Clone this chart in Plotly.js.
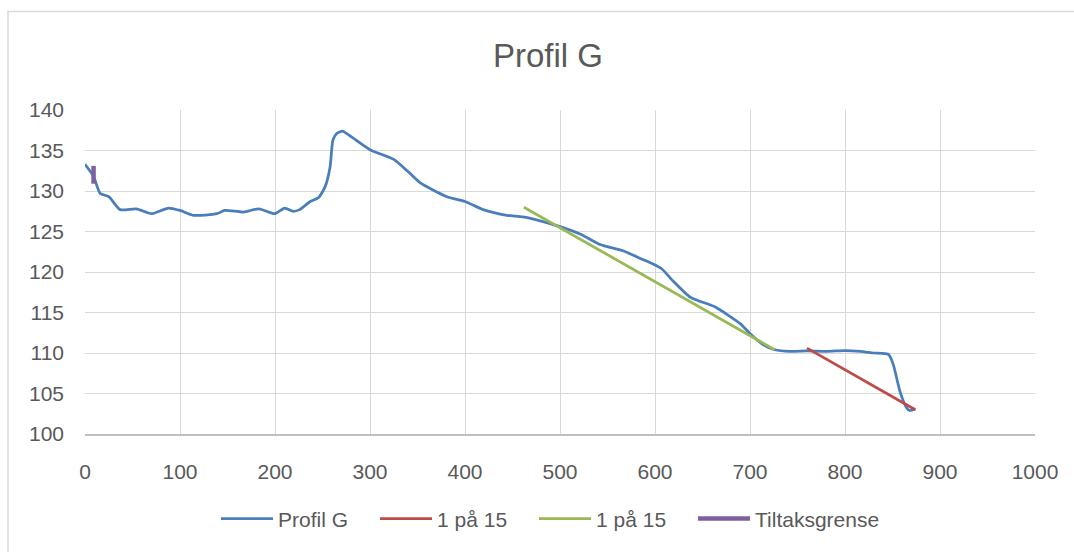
<!DOCTYPE html>
<html>
<head>
<meta charset="utf-8">
<script src="https://cdn.plot.ly/plotly-3.0.1.min.js"></script>
<style>
html,body{margin:0;padding:0;background:#fff;}
#chart{width:1074px;height:552px;}
</style>
</head>
<body>
<div id="chart"></div>
<script>
// Profile (distance, elevation)
const profilX = [0, 9, 16, 25, 37, 54, 70, 88, 100, 114, 139, 147, 167, 183, 200, 210, 219, 226, 237, 246, 253, 258, 261, 265, 271, 279, 300, 325, 340, 353, 381, 400, 419, 444, 461, 486, 500, 521, 542, 567, 584, 598, 607, 619, 637, 647, 663, 690, 700, 714, 726, 742, 760, 781, 800, 816, 830, 846, 851, 858, 865, 868, 874];
const profilY = [133.3, 131.8, 129.7, 129.3, 127.7, 127.8, 127.2, 127.9, 127.6, 127.0, 127.2, 127.6, 127.4, 127.8, 127.2, 127.9, 127.5, 127.7, 128.7, 129.2, 130.6, 133.0, 136.3, 137.1, 137.4, 136.8, 135.1, 133.9, 132.4, 131.0, 129.3, 128.7, 127.7, 127.0, 126.8, 126.1, 125.6, 124.7, 123.4, 122.6, 121.7, 121.0, 120.4, 118.9, 116.9, 116.4, 115.7, 113.6, 112.4, 111.0, 110.4, 110.2, 110.25, 110.2, 110.3, 110.2, 110.0, 109.8, 108.5, 105.2, 103.2, 102.9, 103.1];

// 1 på 15 (red)
const redX = [760, 874];
const redY = [110.6, 103.0];

// 1 på 15 (green)
const greenX = [462, 726];
const greenY = [128.0, 110.4];

// Tiltaksgrense (purple)
const tiltakX = [9, 9];
const tiltakY = [133.1, 130.9];

const seriesNames = ["Profil G", "1 på 15", "1 på 15", "Tiltaksgrense"];
const xTicks = [0, 100, 200, 300, 400, 500, 600, 700, 800, 900, 1000];
const yTicks = [100, 105, 110, 115, 120, 125, 130, 135, 140];

const FONT = "Liberation Sans, Arial, sans-serif";
const TXT = "#595959";

const traces = [
  {x: profilX, y: profilY, name: seriesNames[0], mode: "lines",
   line: {color: "#4a7ebb", width: 2.75, shape: "spline", smoothing: 0.6}},
  {x: redX, y: redY, name: seriesNames[1], mode: "lines",
   line: {color: "#be4b48", width: 2.75}},
  {x: greenX, y: greenY, name: seriesNames[2], mode: "lines",
   line: {color: "#98b954", width: 2.75}},
  {x: tiltakX, y: tiltakY, name: seriesNames[3], mode: "lines", legendwidth: 140,
   line: {color: "#7d60a0", width: 4.5}}
];

const layout = {
  width: 1074, height: 552,
  paper_bgcolor: "#ffffff", plot_bgcolor: "#ffffff",
  margin: {l: 85, r: 39, t: 110, b: 116},
  font: {family: FONT, color: TXT, size: 21},
  title: {text: "Profil G", font: {family: FONT, size: 33, color: TXT},
          x: 548/1074, xref: "container", xanchor: "center",
          y: 1 - 55.5/552, yref: "container", yanchor: "middle"},
  showlegend: true,
  legend: {orientation: "h", x: (216-85)/950, xanchor: "left", y: -0.262, yanchor: "middle",
           font: {family: FONT, size: 21, color: TXT}, itemwidth: 52,
           entrywidth: 92, entrywidthmode: "pixels",
           traceorder: "normal", bgcolor: "rgba(0,0,0,0)"},
  xaxis: {range: [0, 1000], tickvals: xTicks, ticktext: xTicks.map(String),
          showgrid: true, gridcolor: "#d9d9d9", gridwidth: 1,
          showline: true, linecolor: "#bfbfbf", linewidth: 1.5,
          zeroline: false, ticks: "", ticklabelstandoff: 18,
          tickfont: {family: FONT, size: 21, color: TXT}, fixedrange: true},
  yaxis: {range: [100, 140], tickvals: yTicks, ticktext: yTicks.map(String),
          showgrid: true, gridcolor: "#d9d9d9", gridwidth: 1,
          showline: false, zeroline: false, ticks: "", ticklabelstandoff: 20,
          tickfont: {family: FONT, size: 21, color: TXT}, fixedrange: true},
  shapes: [
    {type: "rect", xref: "paper", yref: "paper",
     x0: (8-85)/950, x1: 1.1, y0: -0.6, y1: (436-11)/326,
     line: {color: "#d9d9d9", width: 1.5}, fillcolor: "rgba(0,0,0,0)", layer: "below"}
  ]
};

Plotly.newPlot("chart", traces, layout, {displayModeBar: false, staticPlot: true});
</script>
</body>
</html>
